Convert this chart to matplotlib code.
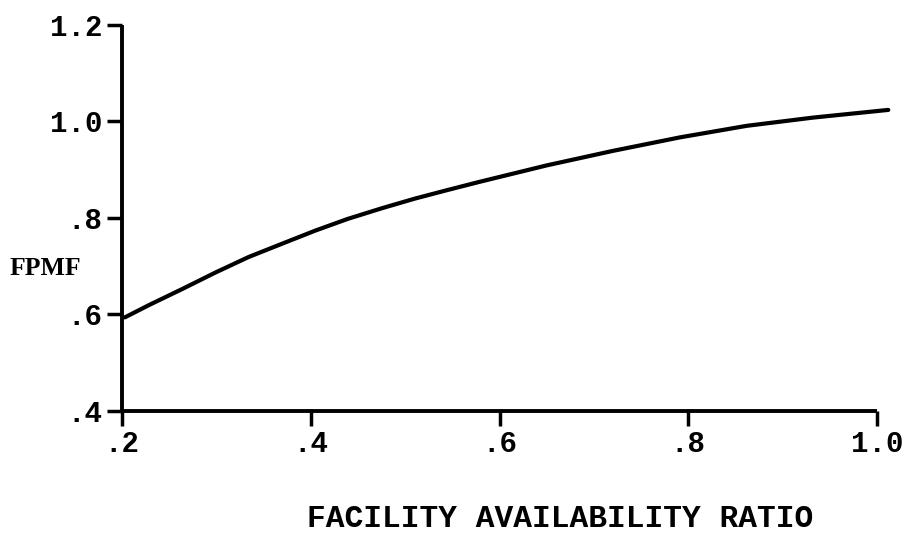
import matplotlib
matplotlib.use("Agg")
import matplotlib.pyplot as plt

# FPMF versus facility availability ratio
availability = [0.203, 0.228, 0.264, 0.299, 0.334, 0.370, 0.405, 0.439,
                0.475, 0.510, 0.545, 0.579, 0.650, 0.720, 0.791, 0.862,
                0.932, 1.012]
fpmf = [0.594, 0.619, 0.653, 0.687, 0.719, 0.747, 0.774, 0.798,
        0.820, 0.840, 0.858, 0.875, 0.909, 0.939, 0.967, 0.991,
        1.008, 1.024]

x_ticks = [0.2, 0.4, 0.6, 0.8, 1.0]
x_labels = [".2", ".4", ".6", ".8", "1.0"]
y_ticks = [0.4, 0.6, 0.8, 1.0, 1.2]
y_labels = [".4", ".6", ".8", "1.0", "1.2"]

mono = "Liberation Mono"

fig = plt.figure(figsize=(9.12, 5.36), dpi=100)
ax = fig.add_axes([0.1338, 0.2332, 0.9616 - 0.1338, 0.9534 - 0.2332])

ax.plot(availability, fpmf, color="black", linewidth=3.0,
        solid_capstyle="round", solid_joinstyle="round", clip_on=False)

ax.set_xlim(0.2, 1.0)
ax.set_ylim(0.4, 1.2)
ax.set_xticks(x_ticks)
ax.set_xticklabels(x_labels, family=mono, fontsize=21, fontweight="bold")
ax.set_yticks(y_ticks)
ax.set_yticklabels(y_labels, family=mono, fontsize=21, fontweight="bold")

for side in ["top", "right"]:
    ax.spines[side].set_visible(False)
for side in ["left", "bottom"]:
    ax.spines[side].set_linewidth(2.8)
    ax.spines[side].set_capstyle("butt")

ax.tick_params(axis="both", direction="out", length=11, width=2.5,
               color="black", pad=3)

ax.set_xlabel("FACILITY AVAILABILITY RATIO", family=mono, fontsize=22.5,
              fontweight="bold", va="center", ha="center")
ax.xaxis.set_label_coords(0.58, -0.28)
ax.set_ylabel("FPMF", family="Liberation Serif", fontsize=18.5,
              fontweight="bold", rotation=0, va="center", ha="center")
ax.yaxis.set_label_coords(-0.101, 0.37)

fig.savefig("out.png", dpi=100)
plt.close(fig)
